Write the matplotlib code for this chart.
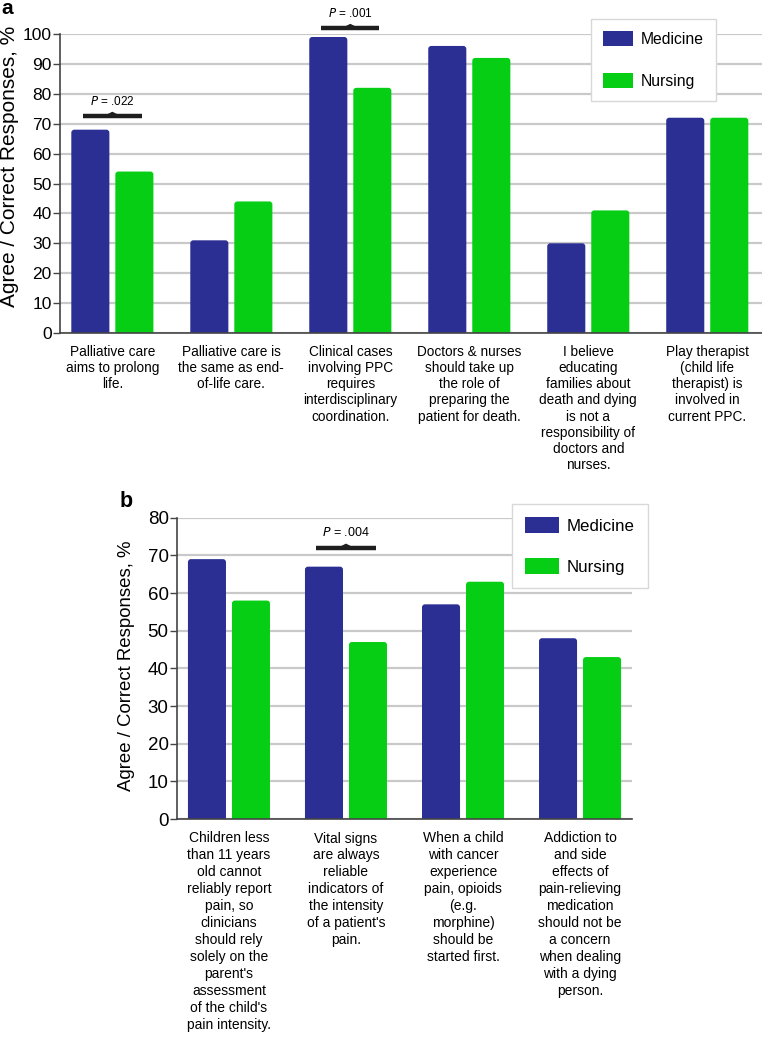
import matplotlib
matplotlib.use("Agg")
import matplotlib.pyplot as plt
from matplotlib.patches import FancyBboxPatch
import numpy as np

plt.rcParams['font.family'] = ['Liberation Sans', 'DejaVu Sans']

# ---------------- data ----------------
cats_a = [
    "Palliative care\naims to prolong\nlife.",
    "Palliative care is\nthe same as end-\nof-life care.",
    "Clinical cases\ninvolving PPC\nrequires\ninterdisciplinary\ncoordination.",
    "Doctors & nurses\nshould take up\nthe role of\npreparing the\npatient for death.",
    "I believe\neducating\nfamilies about\ndeath and dying\nis not a\nresponsibility of\ndoctors and\nnurses.",
    "Play therapist\n(child life\ntherapist) is\ninvolved in\ncurrent PPC.",
]
medicine_a = [68, 31, 99, 96, 30, 72]
nursing_a = [54, 44, 82, 92, 41, 72]
pvals_a = [(0, "P = .022", 72.6), (2, "P = .001", 102)]

cats_b = [
    "Children less\nthan 11 years\nold cannot\nreliably report\npain, so\nclinicians\nshould rely\nsolely on the\nparent's\nassessment\nof the child's\npain intensity.",
    "Vital signs\nare always\nreliable\nindicators of\nthe intensity\nof a patient's\npain.",
    "When a child\nwith cancer\nexperience\npain, opioids\n(e.g.\nmorphine)\nshould be\nstarted first.",
    "Addiction to\nand side\neffects of\npain-relieving\nmedication\nshould not be\na concern\nwhen dealing\nwith a dying\nperson.",
]
medicine_b = [69, 67, 57, 48]
nursing_b = [58, 47, 63, 43]
pvals_b = [(1, "P = .004", 72)]

series_names = ["Medicine", "Nursing"]
yticks_a = list(range(0, 101, 10))
yticks_b = list(range(0, 81, 10))

BLUE = "#2B2F94"
GREEN = "#05CE14"
GRID = "#C9C9C9"
SPINE = "#444444"

W, H = 762, 1040
fig = plt.figure(figsize=(W / 100, H / 100), dpi=100)


def px_axes(l, r, t, b):
    return fig.add_axes([l / W, 1 - b / H, (r - l) / W, (b - t) / H])


def round_bars(ax, container, rpx):
    # replace bar rectangles by round-topped boxes of the same geometry
    fig.canvas.draw()
    x0, x1 = ax.get_xlim()
    y0, y1 = ax.get_ylim()
    bb = ax.get_window_extent()
    ux = (x1 - x0) / bb.width
    uy = (y1 - y0) / bb.height
    rx, ry = rpx * ux, rpx * uy
    for rect in container:
        x, y = rect.get_x(), rect.get_y()
        w, h = rect.get_width(), rect.get_height()
        p = FancyBboxPatch((x, y - ry), w, h + ry,
                           boxstyle=f"round,pad=0,rounding_size={rx}",
                           mutation_aspect=ry / rx,
                           facecolor=rect.get_facecolor(), edgecolor='none',
                           zorder=3)
        ax.add_patch(p)
        rect.set_visible(False)


def draw_panel(ax, cats, med, nur, pvals, yticks, xlim, width, off,
               tick_fs, lab_fs, lab_ls, lab_pad, ylab_fs, ylab_xy, pfs, phalf):
    x = np.arange(len(cats))
    b1 = ax.bar(x - off, med, width, color=BLUE, label=series_names[0], zorder=3)
    b2 = ax.bar(x + off, nur, width, color=GREEN, label=series_names[1], zorder=3)
    ax.set_xlim(*xlim)
    ax.set_ylim(yticks[0], yticks[-1])
    ax.set_yticks(yticks)
    ax.set_yticklabels([str(v) for v in yticks], fontsize=tick_fs)
    ax.set_xticks(x)
    ax.set_xticklabels(cats, fontsize=lab_fs, linespacing=lab_ls, va='top')
    ax.tick_params(axis='x', length=0, pad=lab_pad)
    ax.tick_params(axis='y', length=5, width=1, color=SPINE, pad=1)
    ax.yaxis.grid(True, color=GRID, lw=1.6, zorder=0)
    ax.set_axisbelow(True)
    for s in ['top', 'right']:
        ax.spines[s].set_visible(False)
    for s in ['left', 'bottom']:
        ax.spines[s].set_color(SPINE)
        ax.spines[s].set_linewidth(1.2)
        ax.spines[s].set_zorder(4)
    ax.set_ylabel("Agree / Correct Responses, %", fontsize=ylab_fs)
    ax.yaxis.set_label_coords(*ylab_xy)
    span = yticks[-1] - yticks[0]
    for gi, txt, yv in pvals:
        ax.plot([gi - phalf, gi + phalf], [yv, yv], color="#1E1E1E", lw=3.2,
                solid_capstyle='butt', clip_on=False, zorder=5)
        ax.fill([gi - 0.06, gi, gi + 0.06], [yv, yv + span * 0.012, yv],
                color="#1E1E1E", clip_on=False, zorder=5, lw=0.8)
        ax.text(gi, yv + span * 0.028, txt.replace("P", "$\\it{P}$", 1),
                ha='center', va='bottom', fontsize=pfs, clip_on=False)
    return b1, b2


ax_a = px_axes(60, 762, 34, 333)
bars_a = draw_panel(ax_a, cats_a, medicine_a, nursing_a, pvals_a, yticks_a,
                    (-0.44, 5.46), 0.32, 0.185, 12.5, 9.8, 1.2, 8.5, 15,
                    (-0.058, 0.558), 8.5, 0.245)

ax_b = px_axes(177, 632, 517.7, 819)
bars_b = draw_panel(ax_b, cats_b, medicine_b, nursing_b, pvals_b, yticks_b,
                    (-0.444, 3.444), 0.325, 0.188, 13.5, 10, 1.27, 9, 13.4,
                    (-0.092, 0.508), 9, 0.26)

leg_a = ax_a.legend(loc='upper left', bbox_to_anchor=(591 / W, 1 - 19 / H),
                    bbox_transform=fig.transFigure, borderaxespad=0,
                    fontsize=11.3, handlelength=1.9, handleheight=1.15,
                    handletextpad=0.55, labelspacing=1.65, borderpad=0.75,
                    fancybox=False, framealpha=1, edgecolor="#D8D8D8")
leg_a.get_frame().set_linewidth(1.0)

leg_b = ax_b.legend(loc='upper left', bbox_to_anchor=(512 / W, 1 - 504 / H),
                    bbox_transform=fig.transFigure, borderaxespad=0,
                    fontsize=12.2, handlelength=2.0, handleheight=1.1,
                    handletextpad=0.5, labelspacing=1.45, borderpad=0.75,
                    fancybox=False, framealpha=1, edgecolor="#D8D8D8")
leg_b.get_frame().set_linewidth(1.0)

for b in bars_a:
    round_bars(ax_a, b, 3)
for b in bars_b:
    round_bars(ax_b, b, 3)

fig.text(1 / W, 1 - 14 / H, "a", fontsize=15, fontweight='bold', va='baseline')
fig.text(120 / W, 1 - 507 / H, "b", fontsize=15.5, fontweight='bold', va='baseline')

fig.savefig("out.png", dpi=100)
